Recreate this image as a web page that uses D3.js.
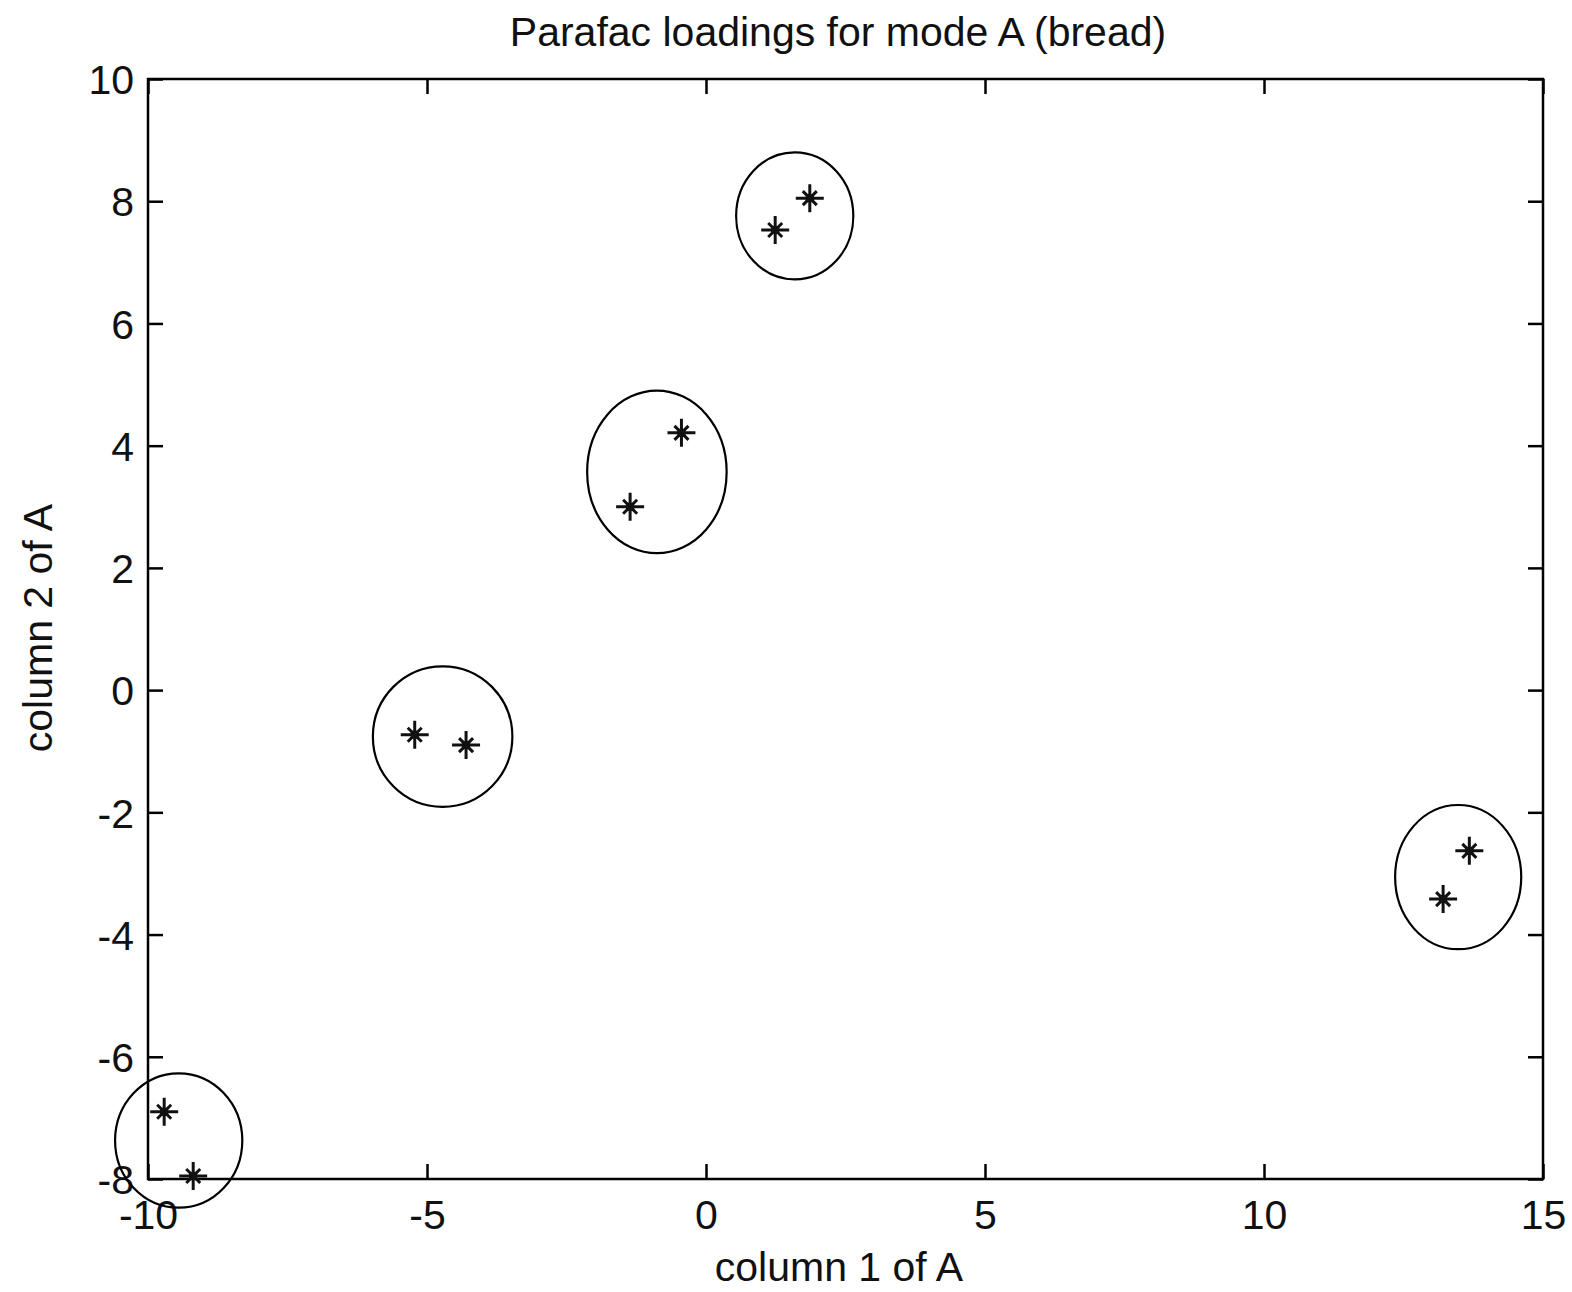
<html>
<head>
<title>Parafac loadings for mode A (bread)</title>
<meta charset="utf-8">
<style type="text/css">
* { margin: 0; padding: 0; }
body { background: #fff; }
text { font-family: "Liberation Sans", Arial, sans-serif; font-size: 41px; fill: #111; }
</style>
<script type="text/javascript" src="https://cdn.jsdelivr.net/npm/d3@7/dist/d3.min.js"></script>
<script type="text/javascript">
// loadings
var colA1 = [1.86, 1.24, -0.44, -1.36, -5.22, -4.30, 13.68, 13.21, -9.71, -9.19];
var colA2 = [8.05, 7.53, 4.21, 3.00, -0.73, -0.90, -2.63, -3.42, -6.90, -7.95];

// hand drawn groups: centre and radii in data units
var groupX  = [1.59, -0.88, -4.72, 13.48, -9.45];
var groupY  = [7.76, 3.57, -0.76, -3.06, -7.37];
var groupRx = [1.05, 1.25, 1.25, 1.13, 1.14];
var groupRy = [1.04, 1.33, 1.15, 1.18, 1.10];

var xTicks = [-10, -5, 0, 5, 10, 15];
var yTicks = [-8, -6, -4, -2, 0, 2, 4, 6, 8, 10];

window.onload = function() {
  var W = 1572, H = 1292;
  var left = 148, right = 1543, top = 79, bottom = 1179;
  var tickLen = 15;

  var svg = d3.select("#chart").append("svg")
    .attr("width", W).attr("height", H);

  var x = d3.scaleLinear().domain([-10, 15]).range([left, right]);
  var y = d3.scaleLinear().domain([-8, 10]).range([bottom, top]);

  // plain hyphen minus like matlab
  var fmt = function(d) { return String(d); };

  // box
  svg.append("rect")
    .attr("x", left).attr("y", top)
    .attr("width", right - left).attr("height", bottom - top)
    .attr("fill", "none").attr("stroke", "#000").attr("stroke-width", 2.5);

  // ticks on all four sides, pointing inward
  function styleAxis(g) {
    g.select(".domain").remove();
    g.selectAll(".tick line").attr("stroke", "#000").attr("stroke-width", 2.5);
    g.selectAll("text").attr("fill", "#111").style("font-size", "41px")
      .style("font-family", '"Liberation Sans", Arial, sans-serif');
  }

  var gb = svg.append("g").attr("transform", "translate(0," + bottom + ")")
    .call(d3.axisBottom(x).tickValues(xTicks).tickSize(-tickLen).tickPadding(0).tickFormat(fmt));
  styleAxis(gb);
  gb.selectAll("text").attr("y", 50).attr("dy", null);

  var gt = svg.append("g").attr("transform", "translate(0," + top + ")")
    .call(d3.axisTop(x).tickValues(xTicks).tickSize(-tickLen).tickFormat(""));
  styleAxis(gt);

  var gl = svg.append("g").attr("transform", "translate(" + left + ",0)")
    .call(d3.axisLeft(y).tickValues(yTicks).tickSize(-tickLen).tickPadding(0).tickFormat(fmt));
  styleAxis(gl);
  gl.selectAll("text").attr("x", -14).attr("dy", "0.36em");

  var gr = svg.append("g").attr("transform", "translate(" + right + ",0)")
    .call(d3.axisRight(y).tickValues(yTicks).tickSize(-tickLen).tickFormat(""));
  styleAxis(gr);

  // ellipses around the pairs
  svg.selectAll("ellipse.group")
    .data(groupX)
    .enter().append("ellipse")
    .attr("class", "group")
    .attr("cx", function(d) { return x(d); })
    .attr("cy", function(d, i) { return y(groupY[i]); })
    .attr("rx", function(d, i) { return x(groupRx[i]) - x(0); })
    .attr("ry", function(d, i) { return y(0) - y(groupRy[i]); })
    .attr("fill", "none").attr("stroke", "#000").attr("stroke-width", 2.2);

  // matlab style '*' markers
  var star = "M-14,0H14M0,-14V14M-7,-7L7,7M-7,7L7,-7";
  svg.selectAll("path.pt")
    .data(colA1)
    .enter().append("path")
    .attr("class", "pt")
    .attr("transform", function(d, i) { return "translate(" + x(d) + "," + y(colA2[i]) + ")"; })
    .attr("d", star)
    .attr("fill", "none").attr("stroke", "#111").attr("stroke-width", 3);
  svg.selectAll("rect.ptc")
    .data(colA1)
    .enter().append("rect")
    .attr("class", "ptc")
    .attr("x", function(d) { return x(d) - 4; })
    .attr("y", function(d, i) { return y(colA2[i]) - 4; })
    .attr("width", 8).attr("height", 8).attr("fill", "#111");

  // titles
  svg.append("text")
    .attr("x", 838).attr("y", 46)
    .attr("text-anchor", "middle")
    .text("Parafac loadings for mode A (bread)");

  svg.append("text")
    .attr("x", 839).attr("y", 1281)
    .attr("text-anchor", "middle")
    .text("column 1 of A");

  svg.append("text")
    .attr("transform", "translate(52,628) rotate(-90)")
    .attr("text-anchor", "middle")
    .text("column 2 of A");
}
</script>
</head>
<body>
  <div id="chart"></div>
</body>
</html>
